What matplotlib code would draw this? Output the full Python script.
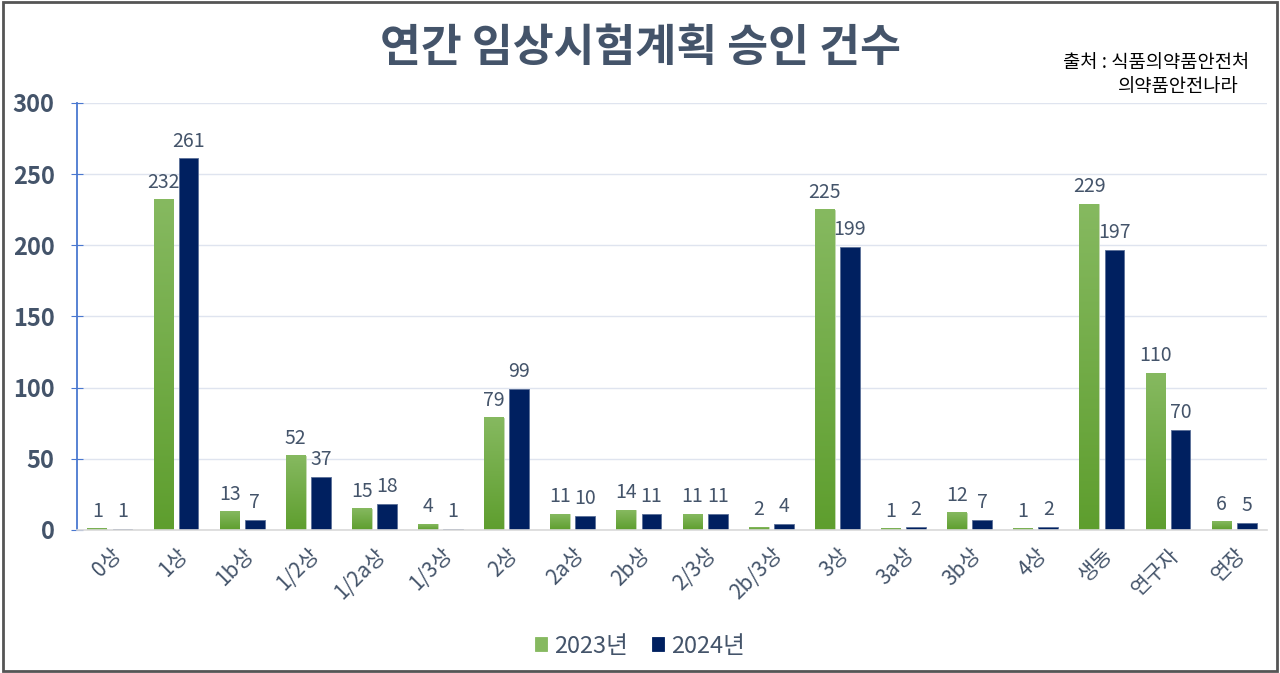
import matplotlib
matplotlib.use("Agg")
import matplotlib.pyplot as plt
from matplotlib.colors import LinearSegmentedColormap
from matplotlib.patches import Rectangle
import numpy as np

plt.rcParams['font.family'] = ['Noto Sans CJK KR', 'DejaVu Sans']

categories = ['0상', '1상', '1b상', '1/2상', '1/2a상', '1/3상', '2상', '2a상', '2b상',
              '2/3상', '2b/3상', '3상', '3a상', '3b상', '4상', '생동', '연구자', '연장']
y2023 = [1, 232, 13, 52, 15, 4, 79, 11, 14, 11, 2, 225, 1, 12, 1, 229, 110, 6]
y2024 = [1, 261, 7, 37, 18, 1, 99, 10, 11, 11, 4, 199, 2, 7, 2, 197, 70, 5]
yticks = [0, 50, 100, 150, 200, 250, 300]

text_col = '#44546a'
green_top = '#86b960'
green_bot = '#5e9e2e'
navy = '#002060'

fig = plt.figure(figsize=(12.8, 6.73), dpi=100)
ax = fig.add_axes([0.060, 0.2125, 0.930, 0.6345])

x = np.arange(len(categories))
w = 0.30
off = 0.19

b1 = ax.bar(x - off, y2023, w, color=green_bot, edgecolor='#c9dcb8', linewidth=0.6, label='2023년', zorder=2)
b2 = ax.bar(x + off, y2024, w, color=navy, edgecolor='#5a6f98', linewidth=0.6, label='2024년', zorder=2)

# vertical gradient on green bars
cmap = LinearSegmentedColormap.from_list('g', [green_bot, green_top])
grad = np.linspace(0, 1, 256).reshape(-1, 1)
for bar in b1:
    x0, y0 = bar.get_x(), bar.get_y()
    ax.imshow(grad, cmap=cmap, origin='lower', aspect='auto', zorder=2.5,
              extent=[x0, x0 + bar.get_width(), y0, y0 + bar.get_height()])

ax.set_xlim(-0.5, len(categories) - 0.5)
ax.set_ylim(0, 300)

for bars, vals in ((b1, y2023), (b2, y2024)):
    for bar, v in zip(bars, vals):
        ax.annotate(str(v), (bar.get_x() + bar.get_width() / 2, v),
                    xytext=(0, 5), textcoords='offset points', ha='center', va='bottom',
                    fontsize=14, color=text_col, zorder=4)

ax.set_yticks(yticks)
ax.set_yticklabels([str(t) for t in yticks], fontsize=17, color=text_col, fontweight='bold')
ax.set_xticks(x)
ax.set_xticklabels(categories, rotation=45, ha='right', rotation_mode='anchor',
                   fontsize=15, color=text_col)
ax.tick_params(axis='x', length=0, pad=10)
ax.tick_params(axis='y', direction='inout', length=8, color='#4a78d0', pad=12)

ax.grid(axis='y', color='#dfe4ef', linewidth=1, zorder=0)
ax.set_axisbelow(True)
for s in ('top', 'right'):
    ax.spines[s].set_visible(False)
ax.spines['left'].set_color('#4a78d0')
ax.spines['left'].set_linewidth(1.3)
ax.spines['bottom'].set_color('#d9d9d9')
ax.spines['bottom'].set_linewidth(1.2)

fig.text(0.5, 0.928, '연간 임상시험계획 승인 건수', ha='center', va='center',
         fontsize=32, fontweight='bold', color=text_col)
fig.text(0.976, 0.907, '출처 : 식품의약품안전처', ha='right', va='center', fontsize=13.5, color='black')
fig.text(0.968, 0.872, '의약품안전나라', ha='right', va='center', fontsize=13.5, color='black')

leg = fig.legend(handles=[b1, b2], loc='center', bbox_to_anchor=(0.5, 0.04), ncol=2,
                 frameon=False, fontsize=17, handlelength=0.5, handleheight=0.5,
                 handletextpad=0.3, columnspacing=1.0, labelcolor=text_col)
for h, c in zip(leg.legend_handles, (green_top, navy)):
    h.set_facecolor(c)
    h.set_edgecolor(c)

fig.add_artist(Rectangle((0.002, 0.003), 0.996, 0.994, transform=fig.transFigure,
                         fill=False, edgecolor='#555555', linewidth=2))

fig.savefig('out.png', dpi=100)
